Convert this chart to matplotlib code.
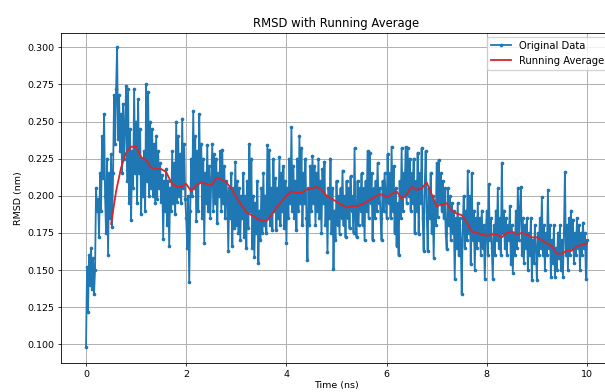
"""RMSD trace with its running average."""

import matplotlib

matplotlib.use("Agg")

import matplotlib.pyplot as plt
import numpy as np

# RMSD (nm), sampled every 0.02 ns from 0 to 10 ns (one row = 0.5 ns)
rmsd = [
    0.098, 0.152, 0.122, 0.160, 0.140, 0.165, 0.137, 0.158, 0.134, 0.150, 0.205, 0.190, 0.198,
    0.172, 0.215, 0.190, 0.240, 0.212, 0.255, 0.200, 0.175, 0.225, 0.160, 0.215, 0.185,
    0.228, 0.179, 0.215, 0.268, 0.235, 0.272, 0.300, 0.238, 0.268, 0.230, 0.255, 0.215, 0.262,
    0.225, 0.248, 0.274, 0.210, 0.272, 0.195, 0.245, 0.184, 0.230, 0.205, 0.272, 0.215,
    0.250, 0.195, 0.265, 0.215, 0.245, 0.188, 0.225, 0.200, 0.230, 0.190, 0.275, 0.210, 0.270,
    0.200, 0.250, 0.205, 0.245, 0.200, 0.235, 0.195, 0.240, 0.198, 0.230, 0.205, 0.222,
    0.196, 0.214, 0.171, 0.210, 0.190, 0.218, 0.180, 0.210, 0.166, 0.205, 0.190, 0.230, 0.195,
    0.222, 0.188, 0.250, 0.196, 0.240, 0.200, 0.228, 0.195, 0.252, 0.205, 0.235, 0.198,
    0.185, 0.165, 0.200, 0.142, 0.190, 0.225, 0.200, 0.257, 0.205, 0.240, 0.183, 0.230, 0.190,
    0.255, 0.210, 0.235, 0.185, 0.225, 0.168, 0.215, 0.195, 0.234, 0.190, 0.220, 0.185,
    0.210, 0.235, 0.190, 0.228, 0.195, 0.225, 0.182, 0.215, 0.200, 0.230, 0.190, 0.231, 0.195,
    0.220, 0.185, 0.210, 0.200, 0.163, 0.205, 0.185, 0.215, 0.166, 0.205, 0.178, 0.223,
    0.180, 0.210, 0.175, 0.205, 0.170, 0.200, 0.185, 0.215, 0.172, 0.200, 0.165, 0.210, 0.178,
    0.235, 0.190, 0.225, 0.165, 0.200, 0.159, 0.195, 0.175, 0.210, 0.155, 0.190, 0.170,
    0.205, 0.175, 0.215, 0.180, 0.200, 0.175, 0.234, 0.185, 0.231, 0.180, 0.205, 0.177, 0.225,
    0.190, 0.212, 0.177, 0.205, 0.185, 0.226, 0.180, 0.215, 0.190, 0.220, 0.178, 0.210,
    0.168, 0.205, 0.185, 0.225, 0.195, 0.246, 0.190, 0.220, 0.185, 0.210, 0.177, 0.225, 0.190,
    0.240, 0.195, 0.232, 0.180, 0.215, 0.195, 0.225, 0.185, 0.157, 0.205, 0.180, 0.220,
    0.190, 0.227, 0.195, 0.220, 0.180, 0.215, 0.190, 0.225, 0.185, 0.210, 0.175, 0.218, 0.195,
    0.223, 0.180, 0.200, 0.162, 0.205, 0.185, 0.225, 0.175, 0.205, 0.151, 0.190, 0.170,
    0.210, 0.180, 0.200, 0.174, 0.205, 0.185, 0.217, 0.180, 0.200, 0.172, 0.210, 0.185, 0.205,
    0.178, 0.213, 0.190, 0.200, 0.175, 0.232, 0.185, 0.172, 0.210, 0.180, 0.205, 0.190,
    0.215, 0.180, 0.205, 0.170, 0.210, 0.190, 0.230, 0.185, 0.229, 0.195, 0.215, 0.170, 0.205,
    0.185, 0.210, 0.190, 0.222, 0.195, 0.205, 0.185, 0.170, 0.210, 0.190, 0.215, 0.200,
    0.185, 0.228, 0.195, 0.215, 0.185, 0.233, 0.190, 0.220, 0.175, 0.205, 0.166, 0.195, 0.160,
    0.210, 0.185, 0.232, 0.190, 0.215, 0.200, 0.233, 0.195, 0.232, 0.200, 0.225, 0.190,
    0.215, 0.195, 0.225, 0.175, 0.210, 0.190, 0.229, 0.174, 0.215, 0.195, 0.232, 0.185, 0.163,
    0.205, 0.230, 0.190, 0.163, 0.205, 0.185, 0.215, 0.175, 0.200, 0.158, 0.195, 0.180,
    0.222, 0.186, 0.224, 0.195, 0.215, 0.190, 0.210, 0.185, 0.205, 0.175, 0.164, 0.205, 0.180,
    0.200, 0.170, 0.195, 0.175, 0.190, 0.144, 0.185, 0.165, 0.195, 0.160, 0.185, 0.170,
    0.134, 0.180, 0.200, 0.165, 0.190, 0.170, 0.217, 0.175, 0.200, 0.154, 0.215, 0.170, 0.190,
    0.150, 0.185, 0.165, 0.195, 0.170, 0.185, 0.160, 0.190, 0.165, 0.180, 0.144, 0.175,
    0.190, 0.160, 0.208, 0.170, 0.185, 0.165, 0.144, 0.180, 0.160, 0.190, 0.170, 0.205, 0.165,
    0.185, 0.160, 0.222, 0.175, 0.190, 0.165, 0.185, 0.160, 0.180, 0.170, 0.193, 0.154,
    0.180, 0.148, 0.175, 0.160, 0.190, 0.165, 0.205, 0.170, 0.190, 0.206, 0.160, 0.185, 0.155,
    0.180, 0.165, 0.185, 0.150, 0.175, 0.160, 0.185, 0.143, 0.170, 0.155, 0.180, 0.165,
    0.143, 0.175, 0.160, 0.185, 0.165, 0.199, 0.160, 0.180, 0.150, 0.175, 0.160, 0.204, 0.165,
    0.180, 0.145, 0.170, 0.155, 0.180, 0.145, 0.165, 0.150, 0.175, 0.158, 0.180, 0.150,
    0.170, 0.145, 0.175, 0.216, 0.160, 0.180, 0.150, 0.185, 0.160, 0.190, 0.165, 0.184, 0.155,
    0.175, 0.160, 0.185, 0.165, 0.180, 0.150, 0.175, 0.160, 0.182, 0.165, 0.175, 0.144,
    0.170,
]

# running average (nm), read every 0.1 ns from 0.5 to 10 ns
running_avg = [
    0.181, 0.203, 0.219, 0.229, 0.233, 0.233, 0.226, 0.224, 0.219, 0.218,
    0.218, 0.216, 0.209, 0.206, 0.206, 0.208, 0.203, 0.207, 0.209, 0.208,
    0.207, 0.212, 0.211, 0.209, 0.205, 0.199, 0.194, 0.189, 0.187, 0.185,
    0.183, 0.183, 0.187, 0.192, 0.196, 0.200, 0.203, 0.202, 0.202, 0.204,
    0.205, 0.206, 0.204, 0.200, 0.198, 0.196, 0.194, 0.192, 0.193, 0.193,
    0.194, 0.196, 0.198, 0.200, 0.201, 0.199, 0.201, 0.203, 0.198, 0.201,
    0.206, 0.204, 0.205, 0.209, 0.201, 0.193, 0.194, 0.195, 0.190, 0.188,
    0.187, 0.182, 0.176, 0.175, 0.174, 0.173, 0.174, 0.174, 0.172, 0.175,
    0.176, 0.174, 0.175, 0.174, 0.172, 0.172, 0.170, 0.168, 0.166, 0.161,
    0.161, 0.163, 0.163, 0.166, 0.167, 0.168,
]

time_ns = np.linspace(0.0, 10.0, len(rmsd))
avg_time_ns = np.linspace(0.5, 10.0, len(running_avg))

plt.rcParams["font.family"] = "DejaVu Sans"

fig = plt.figure(figsize=(6.05, 3.92), dpi=100)
ax = fig.add_axes([0.1008, 0.074, 0.9108, 0.8418])

ax.plot(time_ns, rmsd, color="#1f77b4", linewidth=1.3, marker="o",
        markersize=1.6, label="Original Data")
ax.plot(avg_time_ns, running_avg, color="#d8262a", linewidth=1.3,
        label="Running Average")

ax.set_xlim(-0.5, 10.5)
ax.set_ylim(0.0874, 0.3096)
ax.set_xticks([0, 2, 4, 6, 8, 10])
ax.set_yticks([0.100, 0.125, 0.150, 0.175, 0.200, 0.225, 0.250, 0.275, 0.300])
ax.yaxis.set_major_formatter(matplotlib.ticker.FormatStrFormatter("%.3f"))
ax.tick_params(labelsize=6.8, length=2.4, width=0.55, pad=2.4)
for spine in ax.spines.values():
    spine.set_linewidth(0.6)

ax.grid(True, color="#b0b0b0", linewidth=0.7)
ax.set_title("RMSD with Running Average", fontsize=8.4, pad=4)
ax.set_xlabel("Time (ns)", fontsize=6.8, labelpad=2)
ax.set_ylabel("RMSD (nm)", fontsize=6.8, labelpad=3)
ax.legend(loc="upper right", fontsize=7.2, framealpha=0.8,
          borderaxespad=0.35, handlelength=2.0)

fig.savefig("out.png", dpi=100)
plt.close(fig)
